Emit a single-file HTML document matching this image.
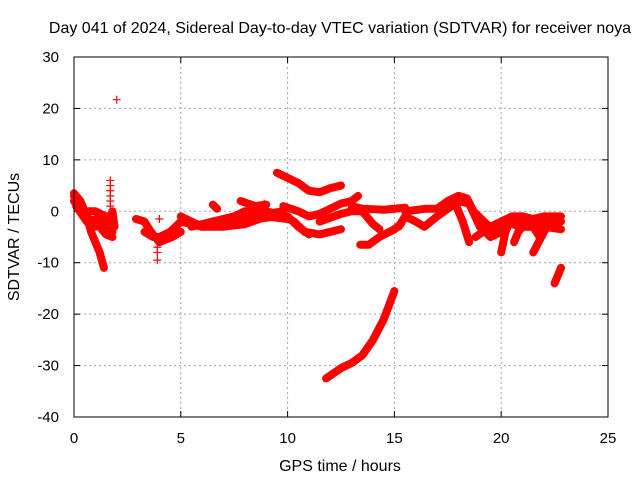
<!DOCTYPE html>
<html><head><meta charset="utf-8"><style>
body{margin:0;background:#fff}
svg{display:block;font-family:"Liberation Sans",sans-serif}
</style></head><body>
<svg id="c" width="640" height="480" xmlns="http://www.w3.org/2000/svg">
<text x="340" y="33" font-size="16" text-anchor="middle">Day 041 of 2024, Sidereal Day-to-day VTEC variation (SDTVAR) for receiver noya</text>
<text x="340" y="471" font-size="16" text-anchor="middle">GPS time / hours</text>
<text transform="translate(19,237) rotate(-90)" font-size="16" text-anchor="middle">SDTVAR / TECUs</text>
<g id="grid"></g>
<g id="ticks"></g>
<g id="series"></g>
<rect x="74" y="57" width="534" height="360" fill="none" stroke="#000" stroke-width="1"/>
</svg>
<script>
const xTicks=[0,5,10,15,20,25];
const yTicks=[30,20,10,0,-10,-20,-30,-40];
const tracks=[
[[0,3.5],[0.3,2],[0.6,-1],[0.8,-4],[1.0,-6],[1.2,-8],[1.4,-11]],
[[0,3],[0.4,0],[0.8,-2],[1.2,-3],[1.5,-4.5],[1.8,-5]],
[[0,2],[0.5,-1],[1,-3],[1.3,-1],[1.6,-2],[1.8,0],[1.9,-3]],
[[0.3,0],[1,0],[1.5,-1]],
[[0.1,1],[0.6,-2],[1.1,-1.5],[1.4,-3],[1.8,-4]],
[[2.9,-1.5],[3.3,-2],[3.6,-4],[4,-6],[4.3,-5.5],[4.6,-5],[5,-4]],
[[3.3,-4],[3.7,-5],[4,-5],[4.5,-4],[5,-2],[5.5,-2.5],[6,-3],[7,-3],[8,-2.5],[9,-1],[10,-1.5]],
[[5,-1],[6,-3],[7,-2],[8,0],[9,0],[9.5,-0.5]],
[[5.5,-3],[6.5,-2],[7.5,-1],[8.5,-1.5],[9.5,-1]],
[[7.8,2],[8.5,1],[9,1.3]],
[[6.5,1.3],[6.7,0.5]],
[[7,-3],[8,-1],[9,-0.5],[9.8,0]],
[[9.5,7.5],[10,6.5],[10.5,5.5],[11,4],[11.5,3.7],[12,4.5],[12.5,5]],
[[9.8,1],[10.5,0],[11,-1],[11.5,-0.5],[12,0.5],[12.5,1.5],[13,2],[13.3,3]],
[[9.8,-1],[10.3,-2],[10.8,-4],[11.5,-4.5],[12,-4],[12.5,-3.5]],
[[9.5,-0.5],[10,-1],[10.5,-3],[11,-4.5]],
[[11.5,-2],[12.5,-0.5],[13,0],[13.5,0],[13.8,-1.5],[14,-2.5],[14.3,-3.5]],
[[13,1],[13.5,0.5],[14.5,0.3],[15,0.5],[15.5,0.7]],
[[13.4,-6.5],[13.8,-6.5],[14.3,-5],[15,-3.5],[15.3,-2.5]],
[[11.8,-32.5],[12.5,-30.5],[13,-29.5],[13.5,-28],[14,-25],[14.5,-21],[15,-15.5]],
[[15.2,-3],[15.5,-1],[16,-2],[16.4,-3],[17,-1],[17.5,0.5],[18,2],[18.5,1.5],[19,-3],[19.5,-5],[20,-4],[20.5,-2],[21,-1],[21.5,-1.5],[22,-1],[22.8,-1]],
[[15.5,0],[16.5,0.5],[17,0.5],[17.5,2],[18,3],[18.4,2.5],[18.7,0],[19.2,-2],[19.7,-4],[20.5,-2]],
[[17.8,2],[18.2,-2],[18.5,-6]],
[[18.8,-5],[19.5,-3],[20,-2],[20.5,-1],[21,-1]],
[[20.5,-1],[20.2,-4],[20,-8]],
[[21.2,-2],[20.8,-4],[20.6,-6]],
[[21,-1],[21.5,-3],[21.8,-5]],
[[22.5,-1],[22,-4],[21.5,-8]],
[[22.5,-14],[22.8,-11]],
[[20,-2],[21,-3],[22,-3],[22.8,-3.5]],
[[20.3,-1.5],[21.5,-2],[22.3,-2],[22.8,-2]]
];
const markerHours=[1.7,1.7,1.7,1.7,1.7,1.7,2.0,3.9,3.9,3.9,4.0,6.5,8.9];
const markerValues=[6,5,4,3,2,1,21.7,-7,-8,-9.5,-1.5,1.2,1.5];
const NS="http://www.w3.org/2000/svg";
const X0=74,X1=608,Y0=417,Y1=57;
function sx(h){return X0+(h-0)/(25-0)*(X1-X0);}
function sy(v){return Y0-(v+40)/(70)*(Y0-Y1);}
function mk(t,a,p){const e=document.createElementNS(NS,t);for(const k in a)e.setAttribute(k,a[k]);p.appendChild(e);return e;}
const grid=document.getElementById('grid'),ticks=document.getElementById('ticks'),ser=document.getElementById('series');
xTicks.forEach(t=>{const x=sx(t);
 if(t>0&&t<25){const l=mk('line',{x1:x,x2:x,y1:Y1,y2:Y0,stroke:'#a0a0a0','stroke-dasharray':'2,3'},grid);
 
 }
 mk('line',{x1:x,x2:x,y1:Y0,y2:Y0-6,stroke:'#000'},ticks);
 mk('line',{x1:x,x2:x,y1:Y1,y2:Y1+6,stroke:'#000'},ticks);
 const tx=mk('text',{x:x,y:Y0+26,'font-size':15,'text-anchor':'middle'},ticks);tx.textContent=t;
 
 
});
yTicks.forEach(t=>{const y=sy(t);
 if(t>-40&&t<30){const l=mk('line',{x1:X0,x2:X1,y1:y,y2:y,stroke:'#a0a0a0','stroke-dasharray':'2,3'},grid);
 
 }
 mk('line',{x1:X0,x2:X0+6,y1:y,y2:y,stroke:'#000'},ticks);
 mk('line',{x1:X1,x2:X1-6,y1:y,y2:y,stroke:'#000'},ticks);
 const tx=mk('text',{x:X0-15,y:y+5,'font-size':15,'text-anchor':'end'},ticks);tx.textContent=t;
 
 
});
tracks.forEach(tr=>{
 const p=mk('polyline',{points:tr.map(d=>sx(d[0])+','+sy(d[1])).join(' '),fill:'none',stroke:'#f00','stroke-width':8,'stroke-linejoin':'round','stroke-linecap':'round'},ser);
 
 
});
markerHours.forEach((h,i)=>{const x=sx(h),y=sy(markerValues[i]);
 const p=mk('path',{d:`M${x-4},${y}H${x+4}M${x},${y-4}V${y+4}`,stroke:'#f00','stroke-width':1.2},ser);
 
 
});
</script>
</body></html>
